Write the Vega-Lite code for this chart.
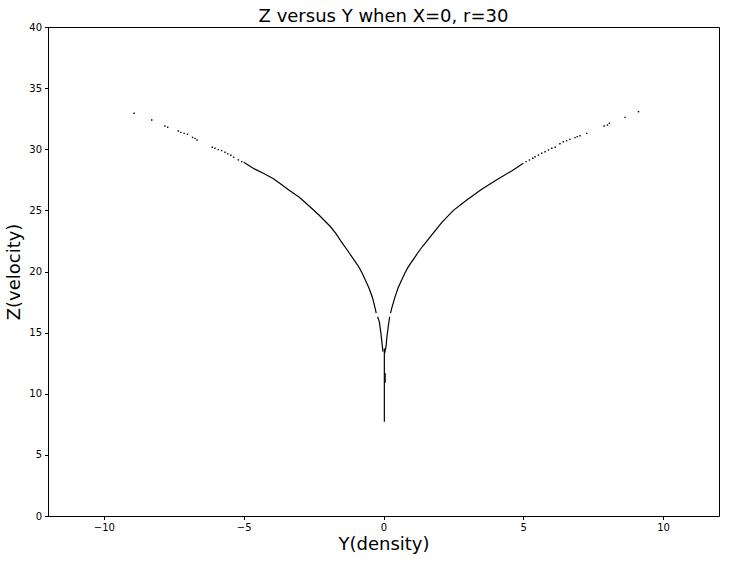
{
  "$schema": "https://vega.github.io/schema/vega-lite/v6.json",
  "width": 671,
  "height": 489,
  "autosize": "none",
  "padding": {"left": 48, "top": 27, "right": 10, "bottom": 46},
  "title": {"text": "Z versus Y when X=0, r=30", "fontSize": 18, "font": "DejaVu Sans", "fontWeight": "normal", "color": "black", "anchor": "middle", "offset": 6, "dy": 10},
  "data": {"values": [
    {"Y": -5.0, "Z": 28.94, "seg": "L1"},
    {"Y": -4.66, "Z": 28.44, "seg": "L1"},
    {"Y": -4.3, "Z": 28.03, "seg": "L1"},
    {"Y": -3.95, "Z": 27.6, "seg": "L1"},
    {"Y": -3.7, "Z": 27.2, "seg": "L1"},
    {"Y": -3.35, "Z": 26.6, "seg": "L1"},
    {"Y": -3.0, "Z": 26.05, "seg": "L1"},
    {"Y": -2.63, "Z": 25.3, "seg": "L1"},
    {"Y": -2.3, "Z": 24.6, "seg": "L1"},
    {"Y": -1.91, "Z": 23.7, "seg": "L1"},
    {"Y": -1.7, "Z": 23.1, "seg": "L1"},
    {"Y": -1.5, "Z": 22.4, "seg": "L1"},
    {"Y": -1.31, "Z": 21.8, "seg": "L1"},
    {"Y": -1.1, "Z": 21.1, "seg": "L1"},
    {"Y": -0.89, "Z": 20.4, "seg": "L1"},
    {"Y": -0.77, "Z": 19.9, "seg": "L1"},
    {"Y": -0.65, "Z": 19.3, "seg": "L1"},
    {"Y": -0.52, "Z": 18.65, "seg": "L1"},
    {"Y": -0.4, "Z": 17.9, "seg": "L1"},
    {"Y": -0.31, "Z": 17.1, "seg": "L1"},
    {"Y": -0.26, "Z": 16.6, "seg": "L1"},
    {"Y": -0.21, "Z": 16.3, "seg": "L2"},
    {"Y": -0.15, "Z": 15.9, "seg": "L2"},
    {"Y": -0.09, "Z": 14.9, "seg": "L2"},
    {"Y": -0.04, "Z": 13.85, "seg": "L2"},
    {"Y": -0.02, "Z": 13.45, "seg": "L2"},
    {"Y": 0.04, "Z": 13.3, "seg": "R2"},
    {"Y": 0.09, "Z": 13.85, "seg": "R2"},
    {"Y": 0.12, "Z": 14.6, "seg": "R2"},
    {"Y": 0.17, "Z": 15.5, "seg": "R2"},
    {"Y": 0.22, "Z": 16.3, "seg": "R2"},
    {"Y": 0.25, "Z": 16.6, "seg": "R1"},
    {"Y": 0.3, "Z": 17.05, "seg": "R1"},
    {"Y": 0.41, "Z": 17.9, "seg": "R1"},
    {"Y": 0.52, "Z": 18.65, "seg": "R1"},
    {"Y": 0.65, "Z": 19.3, "seg": "R1"},
    {"Y": 0.77, "Z": 19.9, "seg": "R1"},
    {"Y": 0.89, "Z": 20.4, "seg": "R1"},
    {"Y": 1.1, "Z": 21.1, "seg": "R1"},
    {"Y": 1.31, "Z": 21.8, "seg": "R1"},
    {"Y": 1.5, "Z": 22.35, "seg": "R1"},
    {"Y": 1.75, "Z": 23.05, "seg": "R1"},
    {"Y": 2.08, "Z": 24.0, "seg": "R1"},
    {"Y": 2.5, "Z": 25.0, "seg": "R1"},
    {"Y": 2.98, "Z": 25.85, "seg": "R1"},
    {"Y": 3.5, "Z": 26.7, "seg": "R1"},
    {"Y": 4.05, "Z": 27.5, "seg": "R1"},
    {"Y": 4.6, "Z": 28.25, "seg": "R1"},
    {"Y": 5.0, "Z": 28.85, "seg": "R1"},
    {"Y": 0.03, "Z": 7.7, "seg": "S1"},
    {"Y": 0.03, "Z": 10.0, "seg": "S1"},
    {"Y": 0.03, "Z": 12.0, "seg": "S1"},
    {"Y": 0.03, "Z": 13.7, "seg": "S1"},
    {"Y": 0.06, "Z": 10.9, "seg": "S2"},
    {"Y": 0.06, "Z": 11.7, "seg": "S2"},
    {"Y": -8.92, "Z": 32.94, "seg": "dots"},
    {"Y": -8.29, "Z": 32.39, "seg": "dots"},
    {"Y": -7.82, "Z": 31.9, "seg": "dots"},
    {"Y": -7.72, "Z": 31.8, "seg": "dots"},
    {"Y": -7.34, "Z": 31.49, "seg": "dots"},
    {"Y": -7.25, "Z": 31.38, "seg": "dots"},
    {"Y": -7.13, "Z": 31.3, "seg": "dots"},
    {"Y": -7.01, "Z": 31.22, "seg": "dots"},
    {"Y": -6.83, "Z": 30.97, "seg": "dots"},
    {"Y": -6.74, "Z": 30.89, "seg": "dots"},
    {"Y": -6.67, "Z": 30.76, "seg": "dots"},
    {"Y": -6.125, "Z": 30.16, "seg": "dots"},
    {"Y": -6.03, "Z": 30.08, "seg": "dots"},
    {"Y": -5.91, "Z": 29.97, "seg": "dots"},
    {"Y": -5.79, "Z": 29.89, "seg": "dots"},
    {"Y": -5.67, "Z": 29.76, "seg": "dots"},
    {"Y": -5.57, "Z": 29.62, "seg": "dots"},
    {"Y": -5.46, "Z": 29.51, "seg": "dots"},
    {"Y": -5.36, "Z": 29.35, "seg": "dots"},
    {"Y": -5.19, "Z": 29.13, "seg": "dots"},
    {"Y": -5.07, "Z": 28.99, "seg": "dots"},
    {"Y": 9.12, "Z": 33.07, "seg": "dots"},
    {"Y": 8.64, "Z": 32.61, "seg": "dots"},
    {"Y": 8.08, "Z": 32.12, "seg": "dots"},
    {"Y": 8.01, "Z": 31.98, "seg": "dots"},
    {"Y": 7.89, "Z": 31.9, "seg": "dots"},
    {"Y": 7.27, "Z": 31.3, "seg": "dots"},
    {"Y": 7.03, "Z": 31.11, "seg": "dots"},
    {"Y": 6.93, "Z": 31.03, "seg": "dots"},
    {"Y": 6.85, "Z": 30.95, "seg": "dots"},
    {"Y": 6.67, "Z": 30.81, "seg": "dots"},
    {"Y": 6.55, "Z": 30.7, "seg": "dots"},
    {"Y": 6.43, "Z": 30.62, "seg": "dots"},
    {"Y": 6.31, "Z": 30.45, "seg": "dots"},
    {"Y": 6.14, "Z": 30.16, "seg": "dots"},
    {"Y": 6.02, "Z": 30.08, "seg": "dots"},
    {"Y": 5.9, "Z": 29.94, "seg": "dots"},
    {"Y": 5.78, "Z": 29.8, "seg": "dots"},
    {"Y": 5.66, "Z": 29.67, "seg": "dots"},
    {"Y": 5.54, "Z": 29.53, "seg": "dots"},
    {"Y": 5.42, "Z": 29.39, "seg": "dots"},
    {"Y": 5.34, "Z": 29.26, "seg": "dots"},
    {"Y": 5.22, "Z": 29.12, "seg": "dots"},
    {"Y": 5.1, "Z": 28.99, "seg": "dots"}
  ]},
  "encoding": {
    "x": {"field": "Y", "type": "quantitative", "scale": {"domain": [-12, 12], "nice": false, "zero": false},
      "axis": {"values": [-10, -5, 0, 5, 10], "title": "Y(density)", "titlePadding": 3}},
    "y": {"field": "Z", "type": "quantitative", "scale": {"domain": [0, 40], "nice": false},
      "axis": {"values": [0, 5, 10, 15, 20, 25, 30, 35, 40], "title": "Z(velocity)", "titlePadding": 5}}
  },
  "layer": [
    {
      "transform": [{"filter": "datum.seg != 'dots'"}],
      "mark": {"type": "line", "color": "black", "strokeWidth": 1.2},
      "encoding": {"detail": {"field": "seg"}, "order": {"field": "Z", "type": "quantitative"}}
    },
    {
      "transform": [{"filter": "datum.seg == 'dots'"}],
      "mark": {"type": "square", "color": "black", "filled": true, "size": 2, "opacity": 1}
    }
  ],
  "config": {
    "font": "DejaVu Sans",
    "view": {"stroke": "black", "strokeWidth": 1},
    "axis": {"grid": false, "domainColor": "black", "domainWidth": 1, "tickColor": "black", "tickSize": 3.5, "labelColor": "black", "labelFontSize": 10, "labelFont": "DejaVu Sans", "labelPadding": 3, "titleFont": "DejaVu Sans", "titleFontSize": 18, "titleFontWeight": "normal", "titleColor": "black"}
  }
}
